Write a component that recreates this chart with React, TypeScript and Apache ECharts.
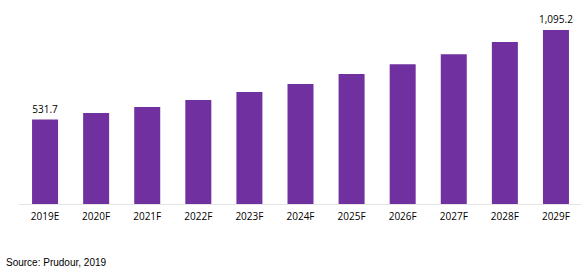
import React, { useEffect, useRef } from "react";
import * as echarts from "echarts";

const categories = ["2019E", "2020F", "2021F", "2022F", "2023F", "2024F", "2025F", "2026F", "2027F", "2028F", "2029F"];
const values = [531.7, 572, 610, 654, 704, 755, 818, 880, 943, 1019, 1095.2];
const labelledIndexes = [0, 10];
const sourceText = "Source: Prudour, 2019";

export default function App() {
  const ref = useRef<HTMLDivElement>(null);
  useEffect(() => {
    const chart = echarts.init(ref.current!, null, { renderer: "svg" });
    chart.setOption({
      animation: false,
      grid: { left: 19.5, right: 3.5, top: 13.3, bottom: 69, containLabel: false },
      xAxis: {
        type: "category",
        data: categories,
        axisLine: { lineStyle: { color: "#e6e6e6", width: 1 } },
        axisTick: { show: false },
        axisLabel: { color: "#000", fontFamily: "Open Sans", fontSize: 10, margin: 7 },
      },
      yAxis: {
        type: "value",
        min: 0,
        max: 1200,
        show: false,
        splitLine: { show: false },
      },
      series: [
        {
          type: "bar",
          barWidth: 26,
          data: values.map((v, i) => ({
            value: v,
            label: {
              show: labelledIndexes.includes(i),
              position: "top",
              distance: 6,
              color: "#000",
              fontFamily: "Open Sans",
              fontSize: 10,
              formatter: (p: any) => p.value.toLocaleString("en-US", { minimumFractionDigits: 1, maximumFractionDigits: 1 }),
            },
          })),
          itemStyle: { color: "#7030A0" },
        },
      ],
      graphic: [
        {
          type: "text",
          left: 6,
          top: 257,
          style: { text: sourceText, fill: "#000", font: "10px 'Liberation Sans', Arial, sans-serif" },
        },
      ],
    });
    return () => chart.dispose();
  }, []);
  return <div ref={ref} style={{ width: 585, height: 273, position: "absolute", left: 0, top: 0 }} />;
}
